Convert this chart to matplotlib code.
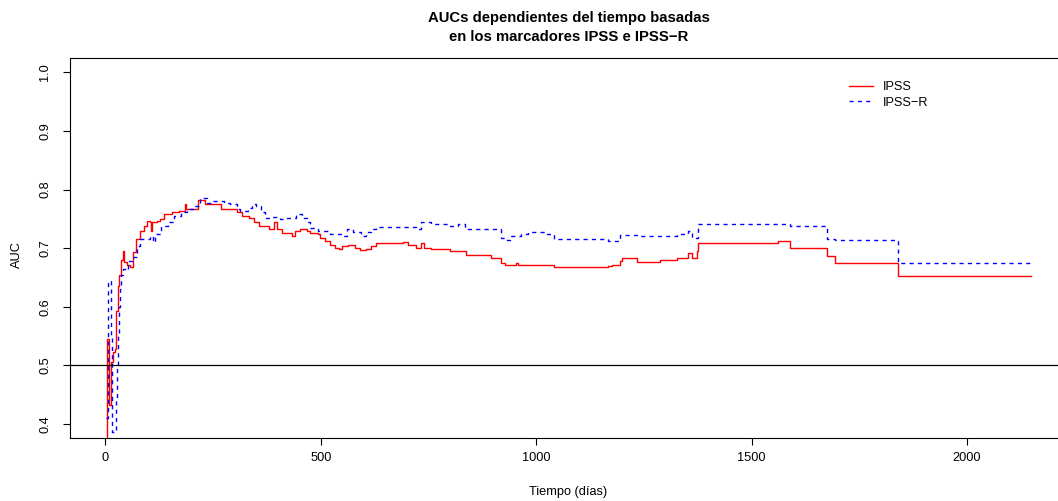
import matplotlib
matplotlib.use("Agg")

import numpy as np
import matplotlib.pyplot as plt

# AUC dependiente del tiempo
t_ipss = [1, 3, 8, 13, 18, 21, 24, 28, 32, 36, 40, 43, 50, 57, 64, 71, 81, 89, 96,
          103, 105, 109, 120, 127, 135, 155, 170, 185, 187, 199, 215, 230, 268, 306,
          318, 333, 345, 357, 380, 390, 397, 409, 430, 432, 440, 452, 467, 475, 494,
          498, 510, 521, 533, 541, 548, 564, 579, 590, 605, 617, 629, 690, 702, 716,
          720, 733, 740, 756, 780, 799, 838, 896, 919, 927, 954, 958, 1008, 1042,
          1167, 1175, 1194, 1198, 1233, 1287, 1326, 1353, 1361, 1372, 1376, 1562,
          1589, 1675, 1694, 1840, 2148]
auc_ipss = [0.30, 0.545, 0.433, 0.505, 0.522, 0.528, 0.593, 0.636, 0.655, 0.680,
            0.695, 0.677, 0.672, 0.667, 0.693, 0.715, 0.729, 0.738, 0.746, 0.744,
            0.729, 0.744, 0.746, 0.750, 0.758, 0.761, 0.764, 0.776, 0.766, 0.766,
            0.783, 0.775, 0.766, 0.761, 0.755, 0.752, 0.744, 0.738, 0.732, 0.744,
            0.732, 0.726, 0.726, 0.720, 0.729, 0.732, 0.729, 0.726, 0.724, 0.718,
            0.712, 0.706, 0.701, 0.698, 0.704, 0.706, 0.701, 0.697, 0.699, 0.704,
            0.709, 0.710, 0.706, 0.706, 0.701, 0.708, 0.701, 0.698, 0.699, 0.695,
            0.689, 0.684, 0.675, 0.672, 0.675, 0.671, 0.672, 0.667, 0.669, 0.672,
            0.678, 0.684, 0.677, 0.680, 0.683, 0.692, 0.683, 0.695, 0.708, 0.712,
            0.701, 0.687, 0.674, 0.652, 0.652]

t_ipssr = [1, 5, 12, 15, 24, 26, 28, 31, 33, 37, 41, 48, 52, 61, 72, 81, 104, 110,
           114, 130, 145, 160, 175, 190, 206, 220, 235, 250, 274, 290, 305, 313, 330,
           341, 350, 360, 370, 382, 405, 420, 443, 455, 467, 475, 494, 521, 548, 560,
           575, 594, 605, 617, 629, 721, 733, 756, 795, 818, 834, 911, 919, 927, 938,
           965, 981, 1020, 1042, 1167, 1194, 1237, 1326, 1353, 1361, 1376, 1562, 1589,
           1675, 1694, 1840, 2148]
auc_ipssr = [0.41, 0.644, 0.55, 0.386, 0.44, 0.50, 0.55, 0.60, 0.63, 0.655, 0.665,
             0.662, 0.678, 0.685, 0.704, 0.715, 0.720, 0.710, 0.724, 0.738, 0.744,
             0.755, 0.761, 0.766, 0.772, 0.786, 0.777, 0.780, 0.777, 0.775, 0.766,
             0.764, 0.769, 0.775, 0.772, 0.761, 0.752, 0.754, 0.750, 0.752, 0.758,
             0.752, 0.744, 0.735, 0.729, 0.724, 0.721, 0.732, 0.727, 0.721, 0.727,
             0.732, 0.736, 0.732, 0.744, 0.741, 0.738, 0.741, 0.733, 0.732, 0.718,
             0.714, 0.721, 0.724, 0.727, 0.724, 0.716, 0.712, 0.722, 0.720, 0.724,
             0.729, 0.718, 0.742, 0.741, 0.738, 0.716, 0.714, 0.675, 0.675]

x_ticks = [0, 500, 1000, 1500, 2000]
y_ticks = [0.4, 0.5, 0.6, 0.7, 0.8, 0.9, 1.0]

plt.rcParams["font.family"] = ["Liberation Sans", "DejaVu Sans"]
fs = 9.2

W, H = 1058, 501
fig = plt.figure(figsize=(W / 100, H / 100), dpi=100)
# el recuadro del gráfico se sale un poco por la derecha, como en el original
left, right, top, bottom = 70, 1067, 58.3, 438
ax = fig.add_axes([left / W, 1 - bottom / H, (right - left) / W, (bottom - top) / H])

ax.step(t_ipss, auc_ipss, where="post", color="red", lw=1.0, label="IPSS")
ax.step(t_ipssr, auc_ipssr, where="post", color="blue", lw=1.0,
        linestyle=(0, (3, 3)), label="IPSS\u2212R")
ax.axhline(0.5, color="black", lw=0.9)

ax.set_xlim(-82.4, 2232)
ax.set_ylim(0.376, 1.024)
ax.set_xticks(x_ticks)
ax.set_xticklabels([str(v) for v in x_ticks], fontsize=fs)
ax.set_yticks(y_ticks)
ax.set_yticklabels([f"{v:.1f}" for v in y_ticks], fontsize=fs, rotation=90, va="center")
ax.tick_params(axis="both", direction="out", length=5, width=0.8, color="black")
ax.tick_params(axis="x", pad=5)
ax.tick_params(axis="y", pad=8.5)
for s in ax.spines.values():
    s.set_linewidth(0.8)
    s.set_color("black")

cx = (left + right) / 2 / W
fig.text(cx, 1 - 18 / H, "AUCs dependientes del tiempo basadas", ha="center", va="center",
         fontsize=10.75, fontweight="bold")
fig.text(cx, 1 - 37 / H, "en los marcadores IPSS e IPSS\u2212R", ha="center", va="center",
         fontsize=10.75, fontweight="bold")
fig.text(cx, 1 - 492 / H, "Tiempo (días)", ha="center", va="center", fontsize=fs)
fig.text(17 / W, 1 - 255 / H, "AUC", ha="center", va="center", rotation=90, fontsize=fs)

ax.legend(loc="upper left", bbox_to_anchor=(849 / W, 1 - 81 / H),
          bbox_transform=fig.transFigure, frameon=False, fontsize=fs,
          handlelength=1.85, handletextpad=0.8, labelspacing=0.3, borderpad=0,
          borderaxespad=0)

fig.savefig("out.png", dpi=100)
